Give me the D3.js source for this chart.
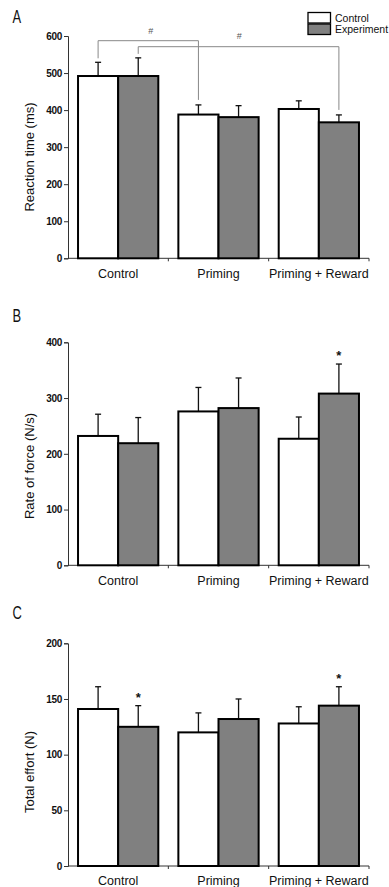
<!DOCTYPE html>
<html>
<head>
<meta charset="utf-8">
<script src="https://cdn.jsdelivr.net/npm/d3@7"></script>
<style>
  body { margin: 0; background: #fff; }
  svg { display: block; font-family: 'Liberation Sans', Arial, sans-serif; }
</style>
</head>
<body>
<div id="chart"></div>
<script>
const groups = ['Control', 'Priming', 'Priming + Reward']
const series = ['Control', 'Experiment']

// panel A - reaction time (ms)
const rtCtrl = [492, 388, 403]
const rtCtrlErr = [37, 26, 22]
const rtExp = [492, 381, 367]
const rtExpErr = [49, 31, 20]

// panel B - rate of force (N/s)
const rfCtrl = [232, 276, 227]
const rfCtrlErr = [39, 43, 39]
const rfExp = [219, 282, 308]
const rfExpErr = [46, 54, 53]

// panel C - total effort (N)
const teCtrl = [141, 120, 128]
const teCtrlErr = [20, 17.5, 15]
const teExp = [125, 132, 144]
const teExpErr = [19, 18, 17]

const panels = [
  { label: 'A', ylab: 'Reaction time (ms)', max: 600, step: 100, top: 36, bottom: 258.3, labY: 157,
    ctrl: rtCtrl, ctrlErr: rtCtrlErr, exp: rtExp, expErr: rtExpErr, letterY: 23, catY: 278, stars: [] },
  { label: 'B', ylab: 'Rate of force (N/s)', max: 400, step: 100, top: 342.3, bottom: 565.3, labY: 466,
    ctrl: rfCtrl, ctrlErr: rfCtrlErr, exp: rfExp, expErr: rfExpErr, letterY: 322, catY: 585, stars: [2] },
  { label: 'C', ylab: 'Total effort (N)', max: 200, step: 50, top: 643.3, bottom: 866, labY: 772,
    ctrl: teCtrl, ctrlErr: teCtrlErr, exp: teExp, expErr: teExpErr, letterY: 619, catY: 885, stars: [0, 2] }
]

const W = 389, H = 887
const svg = d3.select('#chart').append('svg').attr('width', W).attr('height', H)

const x0 = d3.scaleBand().domain(groups).range([68, 369]).paddingInner(0.2).paddingOuter(0.1)
const x1 = d3.scaleBand().domain(series).range([0, x0.bandwidth()])

panels.forEach(p => {
  const y = d3.scaleLinear().domain([0, p.max]).range([p.bottom, p.top])
  const g = svg.append('g')

  // panel letter
  g.append('text')
    .attr('transform', `translate(12.5,${p.letterY}) scale(0.68,1)`)
    .attr('font-size', 19).attr('fill', '#111')
    .text(p.label)

  // y axis
  const yAxis = d3.axisLeft(y).tickValues(d3.range(0, p.max + 1, p.step)).tickSize(4).tickPadding(2)
  const ya = g.append('g').attr('transform', 'translate(68,0)').call(yAxis)
  ya.select('.domain').attr('stroke', '#333')
  ya.selectAll('.tick line').attr('stroke', '#333')
  ya.selectAll('text').attr('font-size', 10).attr('fill', '#111').style('font-weight', 'bold').attr('letter-spacing', -0.3)

  // x axis line + ticks at group boundaries
  g.append('line').attr('x1', 68).attr('x2', 369).attr('y1', p.bottom).attr('y2', p.bottom).attr('stroke', '#333')
  const bounds = [x0.step() + 68, 2 * x0.step() + 68, 369]
  g.selectAll('.xt').data(bounds).enter().append('line')
    .attr('x1', d => d).attr('x2', d => d)
    .attr('y1', p.bottom).attr('y2', p.bottom + 3).attr('stroke', '#333')

  // y axis title
  g.append('text')
    .attr('transform', `translate(34,${p.labY}) rotate(-90)`)
    .attr('text-anchor', 'middle').attr('font-size', 13).attr('fill', '#111')
    .text(p.ylab)

  // bars
  const rows = groups.map((grp, i) => [
    { grp, s: 'Control', v: p.ctrl[i], e: p.ctrlErr[i] },
    { grp, s: 'Experiment', v: p.exp[i], e: p.expErr[i] }
  ]).flat()

  // error bars
  g.selectAll('.err').data(rows).enter().append('line')
    .attr('x1', d => x0(d.grp) + x1(d.s) + x1.bandwidth() / 2)
    .attr('x2', d => x0(d.grp) + x1(d.s) + x1.bandwidth() / 2)
    .attr('y1', d => y(d.v)).attr('y2', d => y(d.v + d.e))
    .attr('stroke', '#111').attr('stroke-width', 1.3)
  g.selectAll('.cap').data(rows).enter().append('line')
    .attr('x1', d => x0(d.grp) + x1(d.s) + x1.bandwidth() / 2 - 3)
    .attr('x2', d => x0(d.grp) + x1(d.s) + x1.bandwidth() / 2 + 3)
    .attr('y1', d => y(d.v + d.e)).attr('y2', d => y(d.v + d.e))
    .attr('stroke', '#111').attr('stroke-width', 1.3)

  g.selectAll('.bar').data(rows).enter().append('rect')
    .attr('x', d => x0(d.grp) + x1(d.s))
    .attr('y', d => y(d.v))
    .attr('width', x1.bandwidth())
    .attr('height', d => y(0) - y(d.v))
    .attr('fill', d => d.s === 'Control' ? '#fff' : '#808080')
    .attr('stroke', '#000').attr('stroke-width', 2)

  // category labels
  g.selectAll('.cat').data(groups).enter().append('text')
    .attr('x', d => x0(d) + x0.bandwidth() / 2)
    .attr('y', p.catY)
    .attr('text-anchor', 'middle').attr('font-size', 12.5).attr('fill', '#111')
    .text(d => d)

  // significance stars on experiment bars
  g.selectAll('.star').data(p.stars).enter().append('text')
    .attr('x', i => x0(groups[i]) + x1('Experiment') + x1.bandwidth() / 2)
    .attr('y', i => y(p.exp[i] + p.expErr[i]) - 4)
    .attr('text-anchor', 'middle').attr('font-size', 13).attr('font-weight', 'bold').attr('fill', '#111')
    .text('*')

  if (p.label === 'A') {
    // brackets between groups
    const cx = (grp, s) => x0(grp) + x1(s) + x1.bandwidth() / 2
    const brackets = [
      { a: cx('Control', 'Control'), b: cx('Priming', 'Control'), top: 40.7,
        ya: y(p.ctrl[0] + p.ctrlErr[0]) - 4, yb: y(p.ctrl[1] + p.ctrlErr[1]) - 5, tx: 150.7, ty: 33.5 },
      { a: cx('Control', 'Experiment'), b: cx('Priming + Reward', 'Experiment'), top: 46.7,
        ya: y(p.exp[0] + p.expErr[0]) - 4, yb: y(p.exp[2] + p.expErr[2]) - 5, tx: 239.3, ty: 38.5 }
    ]
    brackets.forEach(b => {
      g.append('path')
        .attr('d', `M${b.a},${b.ya}V${b.top}H${b.b}V${b.yb}`)
        .attr('fill', 'none').attr('stroke', '#888').attr('stroke-width', 1)
      g.append('text').attr('x', b.tx).attr('y', b.ty)
        .attr('text-anchor', 'middle').attr('font-size', 9).attr('fill', '#555')
        .text('#')
    })

    // legend
    const leg = g.append('g').attr('transform', 'translate(308,12.5)')
    series.forEach((s, i) => {
      leg.append('rect').attr('x', 0).attr('y', i * 11.5).attr('width', 22.5).attr('height', 10.5)
        .attr('fill', s === 'Control' ? '#fff' : '#808080').attr('stroke', '#000').attr('stroke-width', 1.3)
      leg.append('text').attr('x', 27).attr('y', i * 11.5 + 9)
        .attr('font-size', 10.5).attr('fill', '#111').text(s)
    })
  }
})
</script>
</body>
</html>
